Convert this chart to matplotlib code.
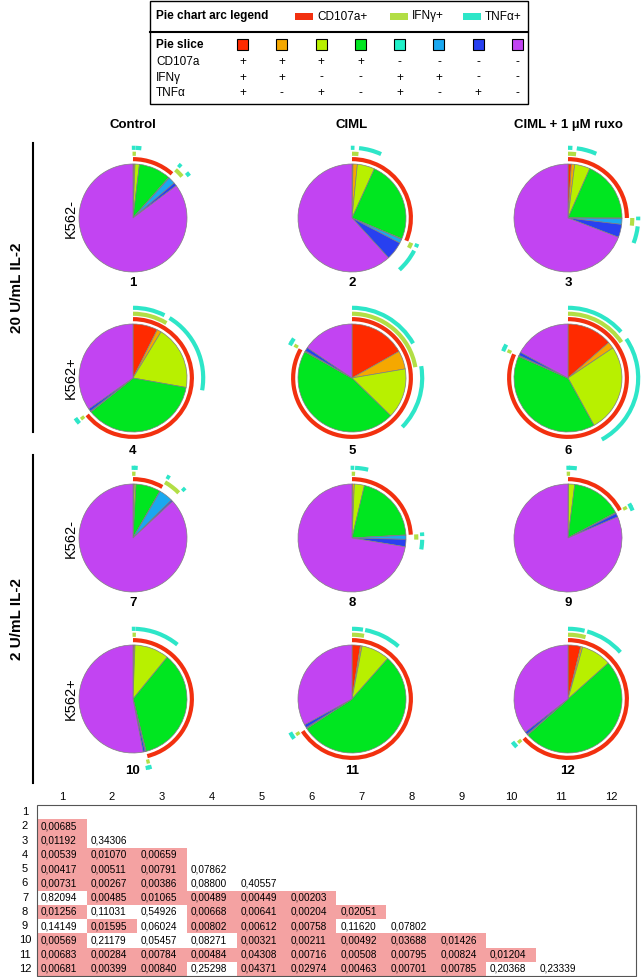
import matplotlib
matplotlib.use("Agg")
import matplotlib.pyplot as plt
from matplotlib.patches import Rectangle, Arc
import numpy as np

plt.rcParams["font.family"] = ["Liberation Sans", "DejaVu Sans"]

# ---------------- data ----------------
conditions = ["Control", "CIML", "CIML + 1 µM ruxo"]
il2_doses = ["20 U/mL IL-2", "2 U/mL IL-2"]
targets = ["K562-", "K562+"]
marker_names = ["CD107a", "IFNγ", "TNFα"]
arc_labels = ["CD107a+", "IFNγ+", "TNFα+"]
cd107a_pos = [1, 1, 1, 1, 0, 0, 0, 0]
ifng_pos = [1, 1, 0, 0, 1, 1, 0, 0]
tnfa_pos = [1, 0, 1, 0, 1, 0, 1, 0]

# percent of cells per slice (clockwise from 12 o'clock, slice order as legend)
pie_1 = [0.3, 0.3, 1.3, 9.6, 0.2, 2.1, 1.0, 85.2]
pie_2 = [0.3, 1.3, 5.2, 24.5, 0.2, 1.2, 5.5, 61.8]
pie_3 = [1.0, 1.0, 4.6, 18.4, 0.2, 1.7, 3.9, 69.2]
pie_4 = [7.4, 1.3, 19.1, 36.4, 0.1, 0.2, 0.8, 34.7]
pie_5 = [16.8, 5.5, 15.0, 45.8, 0.1, 0.2, 1.1, 15.5]
pie_6 = [13.6, 2.0, 26.4, 39.6, 0.1, 0.2, 1.0, 17.1]
pie_7 = [0.2, 0.2, 0.5, 7.4, 0.1, 4.2, 0.5, 86.9]
pie_8 = [0.2, 0.5, 3.0, 20.4, 0.1, 1.2, 2.2, 72.4]
pie_9 = [0.1, 0.1, 1.8, 15.2, 0.1, 0.2, 1.1, 81.4]
pie_10 = [0.3, 0.3, 10.3, 35.2, 0.1, 0.2, 0.6, 53.0]
pie_11 = [2.5, 0.5, 8.5, 54.3, 0.1, 0.2, 1.0, 32.9]
pie_12 = [3.8, 0.6, 9.0, 50.0, 0.1, 0.2, 0.8, 35.5]

# p-values (lower triangle), row i compares pie i with pies 1..i-1
p_row_2 = [0.00685]
p_row_3 = [0.01192, 0.34306]
p_row_4 = [0.00539, 0.01070, 0.00659]
p_row_5 = [0.00417, 0.00511, 0.00791, 0.07862]
p_row_6 = [0.00731, 0.00267, 0.00386, 0.08800, 0.40557]
p_row_7 = [0.82094, 0.00485, 0.01065, 0.00489, 0.00449, 0.00203]
p_row_8 = [0.01256, 0.11031, 0.54926, 0.00668, 0.00641, 0.00204, 0.02051]
p_row_9 = [0.14149, 0.01595, 0.06024, 0.00802, 0.00612, 0.00758, 0.11620, 0.07802]
p_row_10 = [0.00569, 0.21179, 0.05457, 0.08271, 0.00321, 0.00211, 0.00492, 0.03688, 0.01426]
p_row_11 = [0.00683, 0.00284, 0.00784, 0.00484, 0.04308, 0.00716, 0.00508, 0.00795, 0.00824, 0.01204]
p_row_12 = [0.00681, 0.00399, 0.00840, 0.25298, 0.04371, 0.02974, 0.00463, 0.00701, 0.00785, 0.20368, 0.23339]

pies = [pie_1, pie_2, pie_3, pie_4, pie_5, pie_6,
        pie_7, pie_8, pie_9, pie_10, pie_11, pie_12]
p_rows = [[], p_row_2, p_row_3, p_row_4, p_row_5, p_row_6, p_row_7,
          p_row_8, p_row_9, p_row_10, p_row_11, p_row_12]

# ---------------- style ----------------
slice_colors = ["#FF2A00", "#F5A800", "#B8F000", "#00E620",
                "#20F0C8", "#1AA8F0", "#2840F0", "#C244F2"]
arc_colors = ["#F2300F", "#B2DE45", "#2DE6C8"]
arc_radii = [1.09, 1.19, 1.30]
pink = "#F4A2A2"

W, H = 644, 977
fig = plt.figure(figsize=(W / 100, H / 100), dpi=100)
bg = fig.add_axes([0, 0, 1, 1])
bg.set_xlim(0, W)
bg.set_ylim(H, 0)
bg.axis("off")

# ---------------- legend box ----------------
bx0, bx1 = 150, 528
bg.add_patch(Rectangle((bx0, 1), bx1 - bx0, 103, fill=False, ec="black", lw=1))
bg.plot([bx0, bx1], [32, 32], color="black", lw=1.5)
bg.text(156, 16.5, "Pie chart arc legend", fontsize=8.5, fontweight="bold", va="center")
for x0, col, lab in zip([295, 390, 463], arc_colors, arc_labels):
    bg.add_patch(Rectangle((x0, 13), 18, 7, color=col, lw=0))
    bg.text(x0 + 22, 16.5, lab, fontsize=8.5, va="center")
bg.text(156, 45, "Pie slice", fontsize=8.5, fontweight="bold", va="center")
sx = [242.5 + 39.3 * k for k in range(8)]
for k in range(8):
    bg.add_patch(Rectangle((sx[k] - 5.5, 38.5), 11, 11, fc=slice_colors[k], ec="black", lw=0.8))
for r, (name, flags) in enumerate(zip(marker_names, [cd107a_pos, ifng_pos, tnfa_pos])):
    y = 62 + 15.5 * r
    bg.text(156, y, name, fontsize=8.5, va="center")
    for k, f in enumerate(flags):
        bg.text(sx[k], y, "+" if f else "-", fontsize=8.5, ha="center", va="center")

# ---------------- headers / side labels ----------------
col_x = [133, 352, 568]
row_y = [218, 378, 538, 699]
label_off = [65, 73, 65, 72]
for cx, name in zip(col_x, conditions):
    bg.text(cx, 125, name, fontsize=9.5, fontweight="bold", ha="center", va="center")

for g, (dose, (y0, y1)) in enumerate(zip(il2_doses, [(143, 432), (455, 783)])):
    bg.plot([33, 33], [y0, y1], color="black", lw=1.5)
    bg.text(17, (y0 + y1) / 2, dose, fontsize=11, fontweight="bold",
            rotation=90, ha="center", va="center")
for r in range(4):
    fig.text(71, row_y[r], targets[r % 2], fontsize=10.5, rotation=90,
             ha="center", va="center", transform=bg.transData)

# ---------------- pies ----------------
R = 54.0
half = 80.0
flags_all = [cd107a_pos, ifng_pos, tnfa_pos]
for idx, vals in enumerate(pies):
    r, c = divmod(idx, 3)
    cx, cy = col_x[c], row_y[r]
    ax = fig.add_axes([(cx - half) / W, 1 - (cy + half) / H, 2 * half / W, 2 * half / H])
    ax.pie(vals, colors=slice_colors, startangle=90, counterclock=False, radius=1,
           wedgeprops=dict(edgecolor="#7f7f7f", linewidth=0.5))
    lim = half / R
    ax.set_xlim(-lim, lim)
    ax.set_ylim(-lim, lim)
    ax.set_aspect("equal")
    ax.axis("off")
    v = np.asarray(vals, float)
    edges = np.concatenate([[0], np.cumsum(v) / v.sum() * 360.0])
    for m, flags in enumerate(flags_all):
        k = 0
        while k < 8:
            if flags[k]:
                j = k
                while j + 1 < 8 and flags[j + 1]:
                    j += 1
                a1, a2 = edges[k], edges[j + 1]
                if a2 - a1 < 3.0:
                    mid = (a1 + a2) / 2
                    a1, a2 = mid - 1.5, mid + 1.5
                ax.add_patch(Arc((0, 0), 2 * arc_radii[m], 2 * arc_radii[m],
                                 theta1=90 - a2, theta2=90 - a1,
                                 color=arc_colors[m], lw=3, clip_on=False))
                k = j + 1
            else:
                k += 1
    bg.text(cx, cy + label_off[r], str(idx + 1), fontsize=9.5, fontweight="bold",
            ha="center", va="center")

# ---------------- p-value table ----------------
tx0, ty0 = 37, 805
cw, rh = 49.9, 14.25
n = 12
for i in range(n):
    bg.text(tx0 + cw * (i + 0.5), 797, str(i + 1), fontsize=8, ha="center", va="center")
    bg.text(25, ty0 + rh * (i + 0.5), str(i + 1), fontsize=8, ha="center", va="center")
for i, row in enumerate(p_rows):
    for j, p in enumerate(row):
        x0 = tx0 + cw * j
        y0 = ty0 + rh * i
        if p < 0.05:
            bg.add_patch(Rectangle((x0, y0), cw, rh, fc=pink, ec="none", lw=0))
        bg.text(x0 + 4, y0 + rh / 2, f"{p:.5f}".replace(".", ","), fontsize=7.2,
                ha="left", va="center")
bg.add_patch(Rectangle((tx0, ty0), cw * n, rh * n, fill=False, ec="#555555", lw=0.8))

fig.savefig("out.png", dpi=100)
